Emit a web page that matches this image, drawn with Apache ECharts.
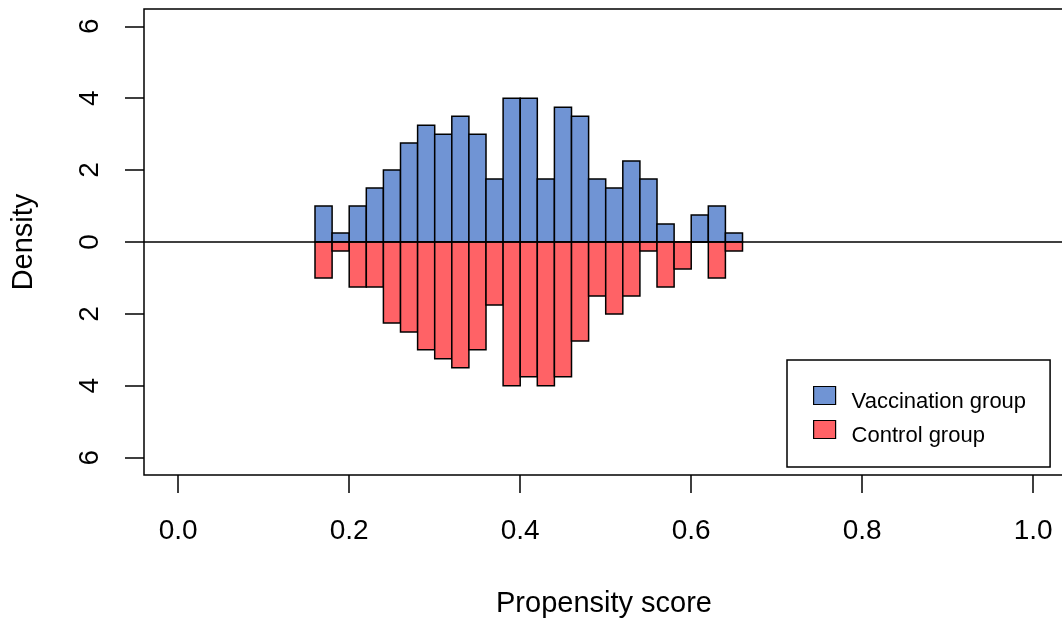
<!DOCTYPE html>
<html>
<head>
<meta charset="utf-8">
<script src="https://cdn.jsdelivr.net/npm/echarts@6/dist/echarts.min.js"></script>
<style>
  html, body { margin: 0; padding: 0; background: #fff; }
  #chart { width: 1062px; height: 618px; }
</style>
</head>
<body>
<div id="chart"></div>
<script>
// Histogram bin edges (propensity score)
const binEdges = [0.16, 0.18, 0.20, 0.22, 0.24, 0.26, 0.28, 0.30, 0.32, 0.34, 0.36, 0.38, 0.40,
                  0.42, 0.44, 0.46, 0.48, 0.50, 0.52, 0.54, 0.56, 0.58, 0.60, 0.62, 0.64, 0.66];
// Densities per bin
const vaccinationDensity = [1.0, 0.25, 1.0, 1.5, 2.0, 2.75, 3.25, 3.0, 3.5, 3.0, 1.75, 4.0, 4.0,
                            1.75, 3.75, 3.5, 1.75, 1.5, 2.25, 1.75, 0.5, 0, 0.75, 1.0, 0.25];
const controlDensity = [1.0, 0.25, 1.25, 1.25, 2.25, 2.5, 3.0, 3.25, 3.5, 3.0, 1.75, 4.0, 3.75,
                        4.0, 3.75, 2.75, 1.5, 2.0, 1.5, 0.25, 1.25, 0.75, 0, 1.0, 0.25];
// Axis ticks
const xTicks = [0.0, 0.2, 0.4, 0.6, 0.8, 1.0];
const yTicks = [-6, -4, -2, 0, 2, 4, 6];
const seriesNames = ['Vaccination group', 'Control group'];
const blue = '#7094D4';
const red = '#FF6266';
const FONT = "'Liberation Sans', Arial, sans-serif";

const vacData = vaccinationDensity.map((v, i) => [binEdges[i], binEdges[i + 1], v]);
const ctlData = controlDensity.map((v, i) => [binEdges[i], binEdges[i + 1], -v]);

function makeRender(color) {
  return function (params, api) {
    const x0 = api.value(0), x1 = api.value(1), v = api.value(2);
    const p0 = api.coord([x0, 0]);
    const p1 = api.coord([x1, v]);
    return {
      type: 'rect',
      shape: {
        x: p0[0],
        y: Math.min(p0[1], p1[1]),
        width: p1[0] - p0[0],
        height: Math.abs(p1[1] - p0[1])
      },
      style: { fill: color, stroke: '#000', lineWidth: 1.5 }
    };
  };
}

const chart = echarts.init(document.getElementById('chart'), null, { renderer: 'canvas' });
chart.setOption({
  backgroundColor: '#fff',
  animation: false,
  textStyle: { fontFamily: FONT },
  grid: {
    left: 144, top: 9, right: -2, bottom: 143,
    outerBoundsMode: 'none', containLabel: false,
    show: true, borderColor: '#000', borderWidth: 1.5, backgroundColor: 'transparent'
  },
  xAxis: {
    type: 'value',
    min: -0.04, max: 1.036,
    name: 'Propensity score',
    nameLocation: 'middle',
    nameGap: 114,
    nameTextStyle: { fontSize: 29, color: '#000', fontFamily: FONT },
    axisLine: { show: false, onZero: false },
    splitLine: { show: false },
    axisTick: { show: true, inside: false, length: 18, lineStyle: { color: '#000', width: 1.5 }, customValues: xTicks },
    axisLabel: {
      customValues: xTicks, fontSize: 28, color: '#000', margin: 42, fontFamily: FONT,
      formatter: v => v.toFixed(1)
    }
  },
  yAxis: {
    type: 'value',
    min: -6.48, max: 6.48,
    name: 'Density',
    nameLocation: 'middle',
    nameGap: 106,
    nameTextStyle: { fontSize: 29, color: '#000', fontFamily: FONT },
    axisLine: { show: false, onZero: false },
    splitLine: { show: false },
    axisTick: { show: true, inside: false, length: 19, lineStyle: { color: '#000', width: 1.5 }, customValues: yTicks },
    axisLabel: {
      customValues: yTicks, fontSize: 28, color: '#000', margin: 40, rotate: 90, fontFamily: FONT,
      formatter: v => String(Math.abs(v))
    }
  },
  legend: {
    orient: 'vertical',
    left: 787, top: 360,
    padding: [22, 24, 20, 26],
    itemWidth: 22, itemHeight: 18, itemGap: 3,
    backgroundColor: '#fff', borderColor: '#000', borderWidth: 1.5, borderRadius: 0,
    formatter: name => '{t|' + name + '}',
    textStyle: {
      fontSize: 22, color: '#000', lineHeight: 22, fontFamily: FONT, padding: [5, 0, 0, 11],
      rich: { t: { fontSize: 22, color: '#000', fontFamily: FONT, lineHeight: 22, padding: [8, 0, 0, 0] } }
    },
    selectedMode: false,
    data: [
      { name: seriesNames[0], icon: 'rect', itemStyle: { color: blue, borderColor: '#000', borderWidth: 1.2 } },
      { name: seriesNames[1], icon: 'rect', itemStyle: { color: red, borderColor: '#000', borderWidth: 1.2 } }
    ]
  },
  series: [
    {
      name: seriesNames[0], type: 'custom', renderItem: makeRender(blue),
      itemStyle: { color: blue },
      encode: { x: [0, 1], y: 2 },
      data: vacData,
      markLine: {
        silent: true, symbol: 'none', label: { show: false },
        lineStyle: { color: '#000', type: 'solid', width: 1.5 },
        data: [{ yAxis: 0 }]
      }
    },
    {
      name: seriesNames[1], type: 'custom', renderItem: makeRender(red),
      itemStyle: { color: red },
      encode: { x: [0, 1], y: 2 },
      data: ctlData
    }
  ]
});
</script>
</body>
</html>
